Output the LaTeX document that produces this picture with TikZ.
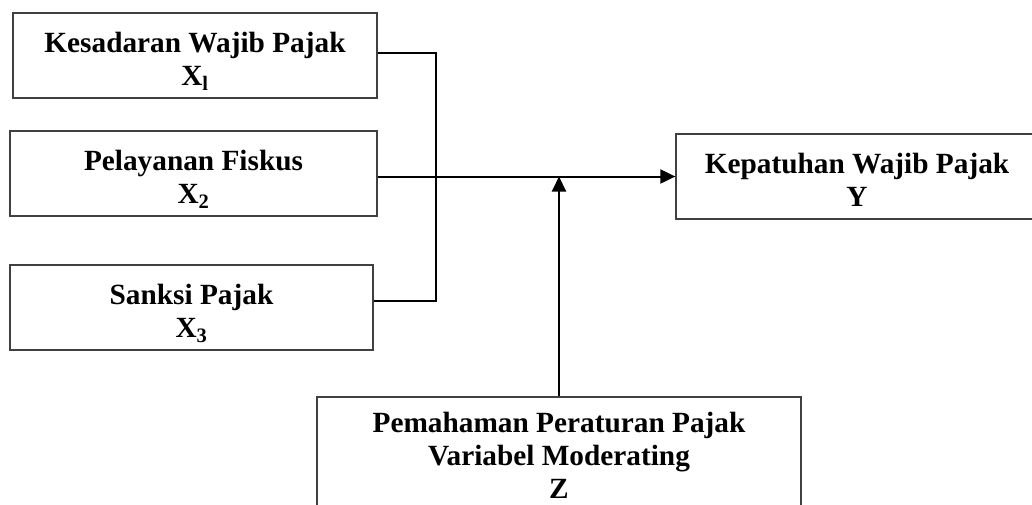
\documentclass[tikz,border=0pt]{standalone}
\usepackage{fontspec}
\setmainfont{Liberation Serif}
\usepackage{tikz}
\usetikzlibrary{positioning, arrows.meta, calc}

\begin{document}
\begin{tikzpicture}[
    x=1pt, y=-1pt,
    varbox/.style={draw=black!75, line width=1.3pt, align=center, inner sep=0pt,
        minimum height=85pt, text height=65pt, text depth=6pt,
        font=\bfseries\fontsize{29.3}{33}\selectfont},
    link/.style={line width=2pt},
    flow/.style={link, -{Triangle[length=15pt, width=14pt]}}
]
    % Page size of the reference
    \useasboundingbox (0,0) rectangle (1032,504);
    \clip (0,0) rectangle (1032,504);

    % Independent variables
    \node[varbox, minimum width=364pt] (x1) at (195,55.5) {Kesadaran Wajib Pajak\\X\textsubscript{l}};
    \node[varbox, minimum width=367pt] (x2) at (193.5,173.5) {Pelayanan Fiskus\\X\textsubscript{2}};
    \node[varbox, minimum width=363pt] (x3) at (191.5,307.5) {Sanksi Pajak\\X\textsubscript{3}};

    % Dependent variable
    \node[varbox, minimum width=362pt] (y) at (857,176.5) {Kepatuhan Wajib Pajak\\Y};

    % Moderating variable (box runs past the page bottom)
    \node[varbox, minimum width=484pt, minimum height=130pt, text height=80pt, text depth=8pt] (z) at (559,462)
        {Pemahaman Peraturan Pajak\\Variabel Moderating\\Z};

    \coordinate (bus) at (436,176.5);

    % Connectors
    \draw[link] ([yshift=2.5pt]x1.east) -| (bus) |- ([yshift=6.5pt]x3.east);
    \draw[flow] ([yshift=-3pt]x2.east) -- (y.west);
    \draw[flow] (z.north) -- (z.north |- y.west);
\end{tikzpicture}
\end{document}
